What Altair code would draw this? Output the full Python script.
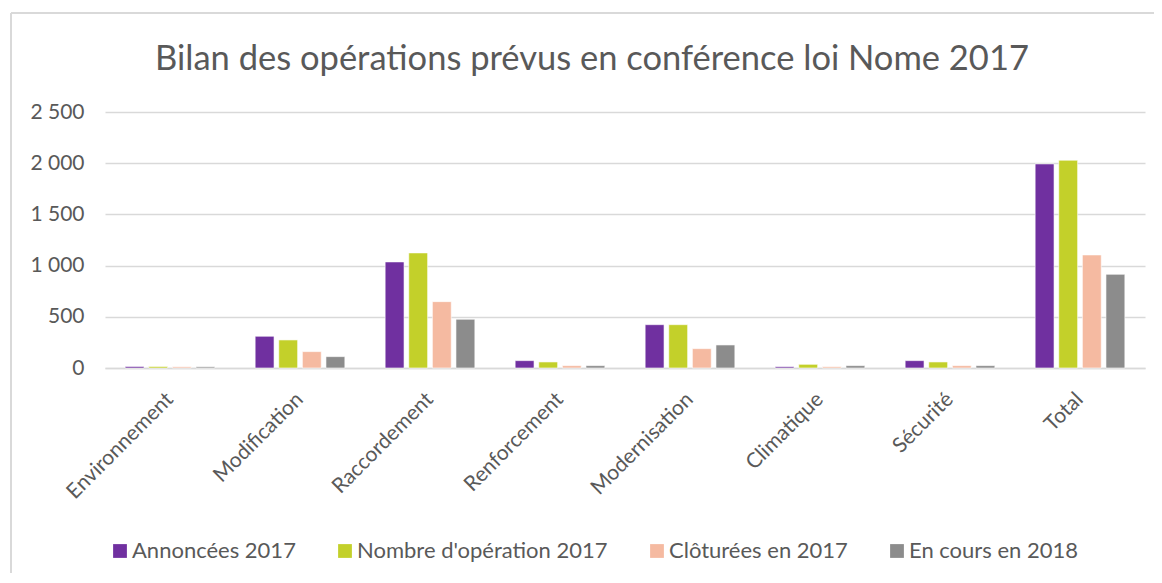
import altair as alt
import pandas as pd

categories = ["Environnement", "Modification", "Raccordement", "Renforcement",
              "Modernisation", "Climatique", "Sécurité", "Total"]
series = ["Annoncées 2017", "Nombre d'opération 2017", "Clôturées en 2017", "En cours en 2018"]
annoncees = [15, 310, 1036, 72, 423, 13, 72, 1993]
nombre = [15, 274, 1124, 59, 423, 36, 59, 2029]
clotures = [12, 160, 648, 23, 189, 13, 23, 1104]
en_cours = [12, 111, 476, 23, 225, 23, 23, 915]
colors = ["#7030a0", "#c3d02a", "#f5baa1", "#8c8c8c"]
y_ticks = [0, 500, 1000, 1500, 2000, 2500]

rows = []
for s, vals in zip(series, [annoncees, nombre, clotures, en_cours]):
    for c, v in zip(categories, vals):
        rows.append({"cat": c, "serie": s, "val": v})
df = pd.DataFrame(rows)

FONT = "Lato"
GREY = "#595959"

bars = alt.Chart(df).mark_bar(stroke="white", strokeWidth=0.6).encode(
    x=alt.X("cat:N", sort=categories, title=None,
            scale=alt.Scale(paddingInner=0.31, paddingOuter=0.155),
            axis=alt.Axis(labelAngle=-45, labelAlign="right", labelBaseline="middle",
                          labelFontSize=21, labelFont=FONT, labelColor=GREY,
                          labelPadding=28, labelLimit=400, ticks=False,
                          domainColor="#d9d9d9", domainWidth=1.5, grid=False)),
    xOffset=alt.XOffset("serie:N", sort=series,
                        scale=alt.Scale(paddingInner=0.2, paddingOuter=0)),
    y=alt.Y("val:Q", title=None,
            scale=alt.Scale(domain=[0, 2500], nice=False),
            axis=alt.Axis(values=y_ticks, labelFontSize=21, labelFont=FONT,
                          labelColor=GREY, labelPadding=21, ticks=False, domain=False,
                          gridColor="#d9d9d9", gridWidth=1.5,
                          labelExpr="replace(format(datum.value, ','), ',', ' ')")),
    color=alt.Color("serie:N", sort=series,
                    scale=alt.Scale(domain=series, range=colors),
                    legend=alt.Legend(title=None, orient="none", legendX=4, legendY=428,
                                      direction="horizontal", columns=4,
                                      symbolType="square", symbolSize=190,
                                      symbolStrokeWidth=0, labelLimit=500,
                                      labelFontSize=22, labelFont=FONT, labelColor=GREY,
                                      labelOffset=1, columnPadding=38)),
)

frame_df = pd.DataFrame({"a": [0]})
left_border = alt.Chart(frame_df).mark_rule(color="#d9d9d9", strokeWidth=2).encode(
    x=alt.value(-94), y=alt.value(-99), y2=alt.value(470))
top_border = alt.Chart(frame_df).mark_rule(color="#d9d9d9", strokeWidth=2).encode(
    x=alt.value(-94), x2=alt.value(1060), y=alt.value(-99))

chart = alt.layer(left_border, top_border, bars).properties(
    width=1040, height=256,
    title=alt.TitleParams("Bilan des opérations prévus en conférence loi Nome 2017",
                          fontSize=34.5, font=FONT, color=GREY, fontWeight="normal",
                          anchor="middle", frame="group", dx=-33, offset=0, dy=92,
                          baseline="alphabetic"),
    autosize=alt.AutoSizeParams(type="none"),
    padding={"left": 97, "top": 104, "right": 9, "bottom": 205},
).configure(background="white").configure_view(strokeWidth=0)

chart.save("out.html", embed_options={"renderer": "svg", "actions": False})
